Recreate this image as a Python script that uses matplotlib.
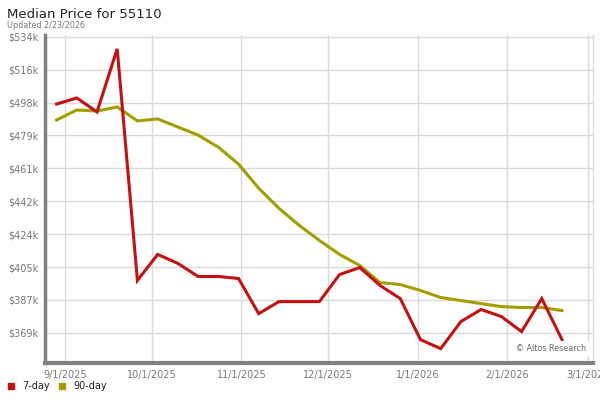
import matplotlib
matplotlib.use('Agg')
import matplotlib.pyplot as plt
import numpy as np
import pandas as pd

# weekly points, Friday 8/29/2025 .. 2/20/2026
dates = pd.date_range('2025-08-29', periods=26, freq='7D')

# median price in $k
day7 = [496.5, 499.9, 492.1, 527.3, 398.2, 412.7, 407.7, 400.4, 400.4, 399.3,
        379.7, 386.4, 386.4, 386.4, 401.5, 405.4, 395.4, 388.1, 365.2, 360.2,
        375.3, 382.0, 378.1, 369.7, 388.1, 365.2]
day90 = [487.6, 493.2, 492.6, 494.9, 487.1, 488.2, 483.7, 479.2, 472.5, 463.0,
         449.6, 438.4, 428.9, 420.5, 412.7, 406.5, 397.0, 395.9, 392.6, 388.7,
         387.0, 385.3, 383.6, 383.1, 383.1, 381.4]

ytick_labels = ['$369k', '$387k', '$405k', '$424k', '$442k',
                '$461k', '$479k', '$498k', '$516k', '$534k']
xtick_dates = ['2025-09-01', '2025-10-01', '2025-11-01', '2025-12-01',
               '2026-01-01', '2026-02-01', '2026-03-01']
xtick_labels = ['9/1/2025', '10/1/2025', '11/1/2025', '12/1/2025',
                '1/1/2026', '2/1/2026', '3/1/2026']

red = '#c41010'
olive = '#a39e00'
grey = '#777777'

fig = plt.figure(figsize=(6, 4), dpi=100)
ax = fig.add_axes([0.075, 0.093, 0.913, 0.82])

ax.plot(dates, day90, color=olive, lw=2.2, solid_joinstyle='miter', zorder=3)
ax.plot(dates, day7, color=red, lw=2.2, solid_joinstyle='miter', zorder=4)

ax.set_ylim(352.3, 535.1)
ax.set_yticks(np.linspace(369, 534, 10))
ax.set_yticklabels(ytick_labels)
ax.set_xlim(pd.Timestamp('2025-08-25'), pd.Timestamp('2026-03-02 16:00'))
ax.set_xticks(pd.to_datetime(xtick_dates))
ax.set_xticklabels(xtick_labels)

ax.grid(True, color='#d9d9d9', lw=1)
ax.set_axisbelow(True)
ax.tick_params(length=0, labelsize=7, labelcolor=grey, pad=5)

ax.spines['top'].set_visible(False)
ax.spines['right'].set_color('#dddddd')
ax.spines['right'].set_linewidth(1)
ax.spines['left'].set_color('#808080')
ax.spines['left'].set_linewidth(2.5)
ax.spines['bottom'].set_color('#808080')
ax.spines['bottom'].set_linewidth(3)

ax.text(0.988, 0.03, '\u00a9 Altos Research', transform=ax.transAxes,
        ha='right', va='bottom', fontsize=5.8, color='#666666',
        bbox=dict(facecolor='white', edgecolor='none', pad=2), zorder=5)

fig.text(0.012, 0.965, 'Median Price for 55110', fontsize=9.5, color='#222222',
         ha='left', va='center')
fig.text(0.012, 0.937, 'Updated 2/23/2026', fontsize=5.8, color='#777777',
         ha='left', va='center')

# legend below the chart
fig.patches.append(plt.Rectangle((0.014, 0.028), 0.010, 0.015, color=red,
                                 transform=fig.transFigure, figure=fig))
fig.text(0.037, 0.035, '7-day', fontsize=7, color='#222222', va='center')
fig.patches.append(plt.Rectangle((0.098, 0.028), 0.010, 0.015, color=olive,
                                 transform=fig.transFigure, figure=fig))
fig.text(0.122, 0.035, '90-day', fontsize=7, color='#222222', va='center')

fig.savefig('out.png', dpi=100)
